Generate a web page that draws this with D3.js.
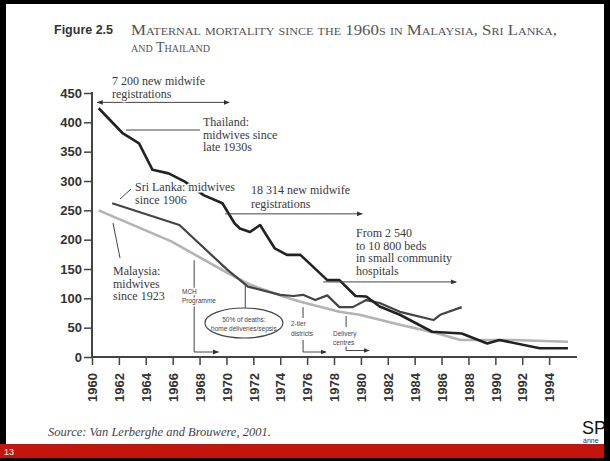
<!DOCTYPE html>
<html><head><meta charset="utf-8">
<script src="https://cdn.jsdelivr.net/npm/d3@7"></script>
<style>body{margin:0;background:#fff}svg{display:block}</style>
</head><body>
<svg id="c" width="610" height="461"></svg>
<script>
// ---- data (maternal deaths per 100 000 live births) ----
const thailandYears  = [1960.5,1962.3,1963.5,1964.5,1965.7,1966.9,1968.3,1969.7,1970.6,1971.0,1971.75,1972.5,1973.6,1974.5,1975.5,1977.5,1978.4,1979.6,1980.4,1981.4,1982.9,1985.3,1987.5,1989.4,1990.3,1993.3,1995.4];
const thailandValues = [424,381,364,319,313,299,276,262,228,219,213,225,185,174,174,131,131,104,103,86,72,43,40,23,29,15,15];
const sriLankaYears  = [1961.5,1966.5,1970.1,1971.6,1974.0,1975.0,1975.7,1976.6,1977.5,1978.4,1979.4,1980.4,1981.4,1982.9,1985.4,1985.9,1987.5];
const sriLankaValues = [262,225,148,120,106,104,106,97,105,85,85,97,92,77,63,72,85];
const malaysiaYears  = [1960.5,1965.9,1970.1,1971.8,1974.0,1975.5,1978.4,1979.9,1982.9,1985.4,1987.4,1991.3,1995.4];
const malaysiaValues = [250,197,143,123,105,94,77,72,55,42,29,29,26];
const xTickYears = d3.range(1960, 1996, 2);
const yTickValues = d3.range(0, 451, 50);

const svg = d3.select("#c");
const serif = "'Liberation Serif','DejaVu Serif',serif";
const sans = "'Liberation Sans','DejaVu Sans',sans-serif";

// frame
svg.append("rect").attr("x",0).attr("y",0).attr("width",610).attr("height",461).attr("fill","#000");
svg.append("rect").attr("x",6).attr("y",4).attr("width",598).attr("height",440).attr("fill","#fff");
svg.append("rect").attr("x",0).attr("y",444).attr("width",604).attr("height",14).attr("fill","#c2160c");
svg.append("text").attr("x",4).attr("y",455).attr("fill","#fff").attr("font-family",sans).attr("font-size",9).text("13");

// title
svg.append("text").attr("x",54).attr("y",34).attr("font-family",sans).attr("font-weight","bold")
  .attr("font-size",12.5).attr("fill","#333").text("Figure 2.5");
svg.append("text").attr("x",131).attr("y",35).attr("font-family",serif).attr("font-variant","small-caps")
  .attr("font-size",14).attr("fill","#555").attr("textLength",426).attr("lengthAdjust","spacingAndGlyphs")
  .text("Maternal mortality since the 1960s in Malaysia, Sri Lanka,");
svg.append("text").attr("x",131).attr("y",52).attr("font-family",serif).attr("font-variant","small-caps")
  .attr("font-size",14).attr("fill","#555").text("and Thailand");

// scales
const x = d3.scaleLinear().domain([1960, 1996]).range([92, 576]);
const y = d3.scaleLinear().domain([0, 450]).range([357, 93]);

// axes
const gy = svg.append("g").attr("transform","translate(92,0)")
  .call(d3.axisLeft(y).tickValues(yTickValues).tickSize(8).tickPadding(2).tickFormat(d3.format("d")));
gy.select(".domain").attr("stroke","#444").attr("stroke-width",2).attr("d","M0,357V92");
gy.selectAll(".tick line").attr("stroke","#444").attr("stroke-width",1.5);
gy.selectAll(".tick text").attr("font-family",sans).attr("font-weight","bold").attr("font-size",13).attr("fill","#333");

const gx = svg.append("g").attr("transform","translate(0,357)")
  .call(d3.axisBottom(x).tickValues(xTickYears).tickSize(8).tickFormat(d3.format("d")));
gx.select(".domain").attr("stroke","#444").attr("stroke-width",2).attr("d","M92,0H577");
gx.selectAll(".tick line").attr("stroke","#444").attr("stroke-width",1.5);
gx.selectAll(".tick text").attr("transform","rotate(-90)").attr("x",-16).attr("y",0).attr("dy","0.36em")
  .attr("text-anchor","end").attr("font-family",sans).attr("font-weight","bold").attr("font-size",13).attr("fill","#333");

// lines
const line = d3.line().x(d => x(d[0])).y(d => y(d[1]));
const zip = (a,b) => a.map((v,i)=>[v,b[i]]);
svg.append("path").datum(zip(malaysiaYears,malaysiaValues)).attr("d",line)
  .attr("fill","none").attr("stroke","#b3b3b3").attr("stroke-width",2.6).attr("stroke-linejoin","round");
svg.append("path").datum(zip(sriLankaYears,sriLankaValues)).attr("d",line)
  .attr("fill","none").attr("stroke","#444").attr("stroke-width",2.2).attr("stroke-linejoin","round");
svg.append("path").datum(zip(thailandYears,thailandValues)).attr("d",line)
  .attr("fill","none").attr("stroke","#222").attr("stroke-width",2.6).attr("stroke-linejoin","round");

// arrow markers
const defs = svg.append("defs");
defs.append("marker").attr("id","ah").attr("viewBox","0 0 10 10").attr("refX",9).attr("refY",5)
  .attr("markerWidth",6).attr("markerHeight",6).attr("markerUnits","userSpaceOnUse").attr("orient","auto-start-reverse")
  .append("path").attr("d","M0,1L10,5L0,9Z").attr("fill","#333");

const ann = svg.append("g").attr("stroke","#444").attr("stroke-width",1).attr("fill","none");
function txt(lines, x0, y0, size, lh, fam, fill) {
  const t = svg.append("text").attr("font-family",fam||serif).attr("font-size",size).attr("fill",fill||"#3a3a3a")
    .attr("stroke","#fff").attr("stroke-width",3).attr("stroke-linejoin","round").attr("paint-order","stroke");
  lines.forEach((s,i)=> t.append("tspan").attr("x",x0).attr("y",y0+i*lh).text(s));
}

// 7 200 new midwife registrations
ann.append("line").attr("x1",x(1960.4)).attr("x2",x(1970.2)).attr("y1",y(434)).attr("y2",y(434))
  .attr("marker-start","url(#ah)").attr("marker-end","url(#ah)");
txt(["7 200 new midwife","registrations"], 112, 85, 12, 12.5);

// Thailand label
ann.append("line").attr("x1",126).attr("x2",200).attr("y1",130).attr("y2",130);
txt(["Thailand:","midwives since","late 1930s"], 203, 126, 12, 12.5);

// Sri Lanka label
ann.append("line").attr("x1",120).attr("y1",199).attr("x2",131).attr("y2",189);
txt(["Sri Lanka: midwives","since 1906"], 135, 191, 12, 12.5);

// 18 314
ann.append("line").attr("x1",x(1969.9)).attr("x2",x(1980.1)).attr("y1",y(244)).attr("y2",y(244)).attr("marker-end","url(#ah)");
txt(["18 314 new midwife","registrations"], 251, 194, 12, 14);

// beds
ann.append("line").attr("x1",x(1977.2)).attr("x2",x(1987.1)).attr("y1",y(128)).attr("y2",y(128)).attr("marker-end","url(#ah)");
txt(["From 2 540","to 10 800 beds","in small community","hospitals"], 356, 237, 12, 12.5);

// Malaysia label
ann.append("line").attr("x1",113).attr("y1",223).attr("x2",120).attr("y2",258);
txt(["Malaysia:","midwives","since 1923"], 113, 275, 12, 12.5);

// MCH Programme
ann.append("path").attr("d",`M${x(1967.6)},${y(165)}V${y(8.5)}H${x(1969.4)}`).attr("marker-end","url(#ah)");
txt(["MCH","Programme"], 182, 294, 6.5, 9, sans, "#444");

// 50% of deaths ellipse
ann.append("line").attr("x1",x(1971.4)).attr("x2",x(1971.4)).attr("y1",y(122)).attr("y2",308);
ann.append("ellipse").attr("cx",x(1971.3)).attr("cy",323).attr("rx",39).attr("ry",15).attr("stroke-width",1.2);
svg.append("text").attr("x",x(1971.3)).attr("y",322).attr("text-anchor","middle").attr("font-family",sans)
  .attr("font-size",6.5).attr("fill","#444").text("50% of deaths:");
svg.append("text").attr("x",x(1971.3)).attr("y",331).attr("text-anchor","middle").attr("font-family",sans)
  .attr("font-size",6.5).attr("fill","#444").text("home deliveries/sepsis");

// 2-tier districts
ann.append("line").attr("x1",x(1975.7)).attr("x2",x(1975.7)).attr("y1",y(85)).attr("y2",318);
ann.append("path").attr("d",`M${x(1975.7)},340V${y(8.5)}H${x(1977.4)}`).attr("marker-end","url(#ah)");
txt(["2-tier","districts"], 291, 326, 6.5, 10, sans, "#444");

// Delivery centres
ann.append("line").attr("x1",x(1978.9)).attr("x2",x(1978.9)).attr("y1",y(70)).attr("y2",327);
ann.append("path").attr("d",`M${x(1978.9)},346V${y(11)}H${x(1980.6)}`).attr("marker-end","url(#ah)");
txt(["Delivery","centres"], 333, 336, 6.5, 9, sans, "#444");

// source
svg.append("text").attr("x",48).attr("y",436).attr("font-family",serif).attr("font-style","italic")
  .attr("font-size",12.5).attr("fill","#444").text("Source: Van Lerberghe and Brouwere, 2001.");

// logo fragments
svg.append("text").attr("x",582).attr("y",434).attr("font-family",sans).attr("font-size",18).attr("fill","#111").text("SP");
svg.append("text").attr("x",583).attr("y",443).attr("font-family",sans).attr("font-size",7).attr("fill","#333").text("anne");
</script>
</body></html>
